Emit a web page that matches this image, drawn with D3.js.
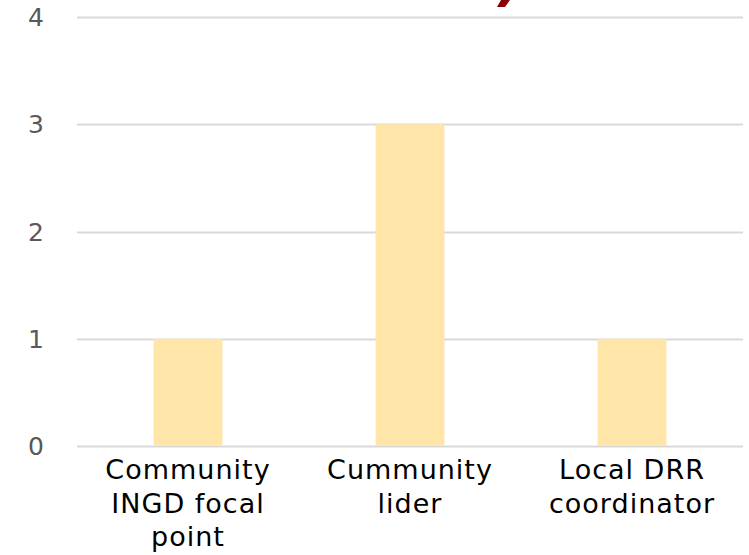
<!DOCTYPE html>
<html><head><meta charset="utf-8">
<script src="https://cdn.jsdelivr.net/npm/d3@7"></script>
<style>body{margin:0;background:#fff}svg{display:block}</style>
</head><body>
<script>
const categories = [["Community","INGD focal","point"],["Cummunity","lider"],["Local DRR","coordinator"]];
const values = [1, 3, 1];
const yTicks = [0, 1, 2, 3, 4];

const W = 749, H = 555;
const m = {left: 77, right: 6, top: 17, bottom: 109};
const svg = d3.select("body").append("svg").attr("width", W).attr("height", H);

const x = d3.scaleBand().domain(d3.range(values.length)).range([m.left, W - m.right]).paddingInner(0.69).paddingOuter(0.345);
const y = d3.scaleLinear().domain([0, 4]).range([H - m.bottom, m.top]);

// fragment of a cut-off title glyph at the top edge
svg.append("path").attr("d", "M501,0 L510,0 L505,7 L497,7 Z").attr("fill", "#8B0000");

svg.append("g").selectAll("line").data(yTicks).join("line")
  .attr("x1", m.left).attr("x2", W - m.right)
  .attr("y1", d => Math.round(y(d)) + 0.5).attr("y2", d => Math.round(y(d)) + 0.5)
  .attr("stroke", "#d9d9d9").attr("stroke-width", 2);

svg.append("g").selectAll("rect").data(values).join("rect")
  .attr("x", (d, i) => x(i)).attr("width", x.bandwidth())
  .attr("y", d => y(d)).attr("height", d => y(0) - y(d))
  .attr("fill", "#FFE5A8");

svg.append("g").selectAll("text").data(yTicks).join("text")
  .attr("x", 44).attr("y", d => y(d)).attr("dy", "0.36em").attr("text-anchor", "end")
  .attr("font-family", "DejaVu Sans").attr("font-size", 25).attr("fill", "#595959")
  .text(d => d);

const lab = svg.append("g").selectAll("text").data(categories).join("text")
  .attr("x", (d, i) => x(i) + x.bandwidth() / 2).attr("y", 479)
  .attr("text-anchor", "middle").attr("font-family", "DejaVu Sans").attr("font-size", 27)
  .attr("letter-spacing", 1).attr("fill", "#000");
lab.selectAll("tspan").data(d => d).join("tspan")
  .attr("x", function() { return this.parentNode.getAttribute("x"); })
  .attr("dy", (d, i) => i === 0 ? 0 : 33.5).text(d => d);
</script>
</body></html>
